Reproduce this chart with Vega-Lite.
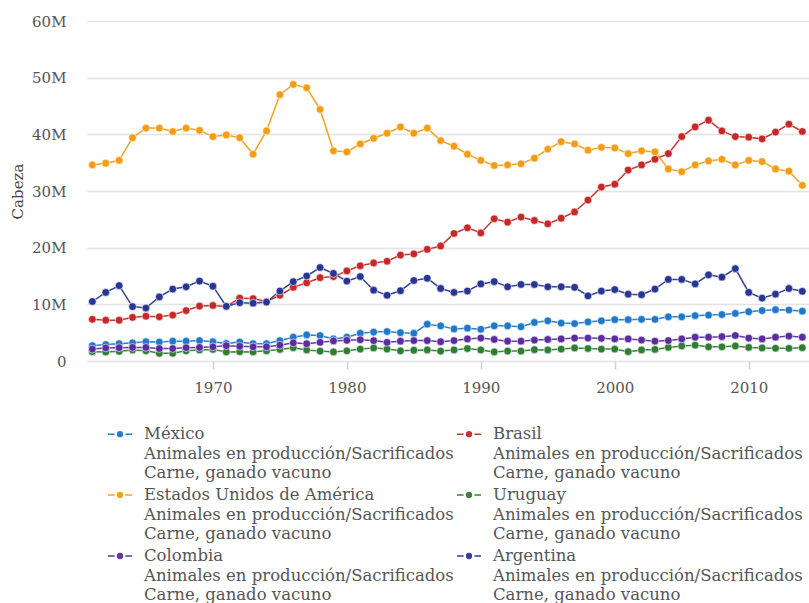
{
"$schema": "https://vega.github.io/schema/vega-lite/v6.json",
"width": 722, "height": 340,
"autosize": {"type": "none"},
"padding": {"left": 87, "top": 21, "right": 0, "bottom": 242},
"background": "white",
"config": {
  "font": "DejaVu Serif",
  "view": {"stroke": null},
  "axis": {"labelFont": "DejaVu Serif", "titleFont": "DejaVu Serif"},
  "legend": {"labelFont": "DejaVu Serif"},
  "style": {"guide-label": {"lineHeight": 19.6}}
},
"data": {"values": [
{"year":1961,"pais":"México","cabeza":2700000},{"year":1962,"pais":"México","cabeza":2900000},{"year":1963,"pais":"México","cabeza":3050000},{"year":1964,"pais":"México","cabeza":3200000},{"year":1965,"pais":"México","cabeza":3400000},{"year":1966,"pais":"México","cabeza":3350000},{"year":1967,"pais":"México","cabeza":3500000},{"year":1968,"pais":"México","cabeza":3500000},{"year":1969,"pais":"México","cabeza":3600000},{"year":1970,"pais":"México","cabeza":3400000},{"year":1971,"pais":"México","cabeza":3100000},{"year":1972,"pais":"México","cabeza":3350000},{"year":1973,"pais":"México","cabeza":3050000},{"year":1974,"pais":"México","cabeza":3050000},{"year":1975,"pais":"México","cabeza":3600000},{"year":1976,"pais":"México","cabeza":4200000},{"year":1977,"pais":"México","cabeza":4600000},{"year":1978,"pais":"México","cabeza":4500000},{"year":1979,"pais":"México","cabeza":3900000},{"year":1980,"pais":"México","cabeza":4200000},{"year":1981,"pais":"México","cabeza":4900000},{"year":1982,"pais":"México","cabeza":5100000},{"year":1983,"pais":"México","cabeza":5200000},{"year":1984,"pais":"México","cabeza":5000000},{"year":1985,"pais":"México","cabeza":4900000},{"year":1986,"pais":"México","cabeza":6500000},{"year":1987,"pais":"México","cabeza":6200000},{"year":1988,"pais":"México","cabeza":5650000},{"year":1989,"pais":"México","cabeza":5800000},{"year":1990,"pais":"México","cabeza":5600000},{"year":1991,"pais":"México","cabeza":6200000},{"year":1992,"pais":"México","cabeza":6200000},{"year":1993,"pais":"México","cabeza":6050000},{"year":1994,"pais":"México","cabeza":6800000},{"year":1995,"pais":"México","cabeza":7100000},{"year":1996,"pais":"México","cabeza":6700000},{"year":1997,"pais":"México","cabeza":6600000},{"year":1998,"pais":"México","cabeza":6900000},{"year":1999,"pais":"México","cabeza":7100000},{"year":2000,"pais":"México","cabeza":7300000},{"year":2001,"pais":"México","cabeza":7300000},{"year":2002,"pais":"México","cabeza":7350000},{"year":2003,"pais":"México","cabeza":7350000},{"year":2004,"pais":"México","cabeza":7800000},{"year":2005,"pais":"México","cabeza":7800000},{"year":2006,"pais":"México","cabeza":8000000},{"year":2007,"pais":"México","cabeza":8100000},{"year":2008,"pais":"México","cabeza":8200000},{"year":2009,"pais":"México","cabeza":8400000},{"year":2010,"pais":"México","cabeza":8700000},{"year":2011,"pais":"México","cabeza":8900000},{"year":2012,"pais":"México","cabeza":9050000},{"year":2013,"pais":"México","cabeza":9000000},{"year":2014,"pais":"México","cabeza":8800000},
{"year":1961,"pais":"Brasil","cabeza":7360000},{"year":1962,"pais":"Brasil","cabeza":7200000},{"year":1963,"pais":"Brasil","cabeza":7200000},{"year":1964,"pais":"Brasil","cabeza":7700000},{"year":1965,"pais":"Brasil","cabeza":7900000},{"year":1966,"pais":"Brasil","cabeza":7800000},{"year":1967,"pais":"Brasil","cabeza":8100000},{"year":1968,"pais":"Brasil","cabeza":8900000},{"year":1969,"pais":"Brasil","cabeza":9700000},{"year":1970,"pais":"Brasil","cabeza":9800000},{"year":1971,"pais":"Brasil","cabeza":9600000},{"year":1972,"pais":"Brasil","cabeza":11100000},{"year":1973,"pais":"Brasil","cabeza":11000000},{"year":1974,"pais":"Brasil","cabeza":10500000},{"year":1975,"pais":"Brasil","cabeza":11600000},{"year":1976,"pais":"Brasil","cabeza":13000000},{"year":1977,"pais":"Brasil","cabeza":13800000},{"year":1978,"pais":"Brasil","cabeza":14700000},{"year":1979,"pais":"Brasil","cabeza":14900000},{"year":1980,"pais":"Brasil","cabeza":15900000},{"year":1981,"pais":"Brasil","cabeza":16800000},{"year":1982,"pais":"Brasil","cabeza":17300000},{"year":1983,"pais":"Brasil","cabeza":17600000},{"year":1984,"pais":"Brasil","cabeza":18700000},{"year":1985,"pais":"Brasil","cabeza":18900000},{"year":1986,"pais":"Brasil","cabeza":19700000},{"year":1987,"pais":"Brasil","cabeza":20300000},{"year":1988,"pais":"Brasil","cabeza":22500000},{"year":1989,"pais":"Brasil","cabeza":23500000},{"year":1990,"pais":"Brasil","cabeza":22600000},{"year":1991,"pais":"Brasil","cabeza":25100000},{"year":1992,"pais":"Brasil","cabeza":24500000},{"year":1993,"pais":"Brasil","cabeza":25400000},{"year":1994,"pais":"Brasil","cabeza":24800000},{"year":1995,"pais":"Brasil","cabeza":24200000},{"year":1996,"pais":"Brasil","cabeza":25200000},{"year":1997,"pais":"Brasil","cabeza":26300000},{"year":1998,"pais":"Brasil","cabeza":28400000},{"year":1999,"pais":"Brasil","cabeza":30700000},{"year":2000,"pais":"Brasil","cabeza":31200000},{"year":2001,"pais":"Brasil","cabeza":33700000},{"year":2002,"pais":"Brasil","cabeza":34600000},{"year":2003,"pais":"Brasil","cabeza":35600000},{"year":2004,"pais":"Brasil","cabeza":36600000},{"year":2005,"pais":"Brasil","cabeza":39600000},{"year":2006,"pais":"Brasil","cabeza":41300000},{"year":2007,"pais":"Brasil","cabeza":42500000},{"year":2008,"pais":"Brasil","cabeza":40600000},{"year":2009,"pais":"Brasil","cabeza":39600000},{"year":2010,"pais":"Brasil","cabeza":39500000},{"year":2011,"pais":"Brasil","cabeza":39200000},{"year":2012,"pais":"Brasil","cabeza":40400000},{"year":2013,"pais":"Brasil","cabeza":41800000},{"year":2014,"pais":"Brasil","cabeza":40500000},
{"year":1961,"pais":"Estados Unidos de América","cabeza":34600000},{"year":1962,"pais":"Estados Unidos de América","cabeza":34900000},{"year":1963,"pais":"Estados Unidos de América","cabeza":35400000},{"year":1964,"pais":"Estados Unidos de América","cabeza":39400000},{"year":1965,"pais":"Estados Unidos de América","cabeza":41100000},{"year":1966,"pais":"Estados Unidos de América","cabeza":41100000},{"year":1967,"pais":"Estados Unidos de América","cabeza":40500000},{"year":1968,"pais":"Estados Unidos de América","cabeza":41100000},{"year":1969,"pais":"Estados Unidos de América","cabeza":40700000},{"year":1970,"pais":"Estados Unidos de América","cabeza":39600000},{"year":1971,"pais":"Estados Unidos de América","cabeza":39900000},{"year":1972,"pais":"Estados Unidos de América","cabeza":39400000},{"year":1973,"pais":"Estados Unidos de América","cabeza":36500000},{"year":1974,"pais":"Estados Unidos de América","cabeza":40600000},{"year":1975,"pais":"Estados Unidos de América","cabeza":47000000},{"year":1976,"pais":"Estados Unidos de América","cabeza":48800000},{"year":1977,"pais":"Estados Unidos de América","cabeza":48200000},{"year":1978,"pais":"Estados Unidos de América","cabeza":44400000},{"year":1979,"pais":"Estados Unidos de América","cabeza":37100000},{"year":1980,"pais":"Estados Unidos de América","cabeza":36900000},{"year":1981,"pais":"Estados Unidos de América","cabeza":38300000},{"year":1982,"pais":"Estados Unidos de América","cabeza":39300000},{"year":1983,"pais":"Estados Unidos de América","cabeza":40200000},{"year":1984,"pais":"Estados Unidos de América","cabeza":41300000},{"year":1985,"pais":"Estados Unidos de América","cabeza":40200000},{"year":1986,"pais":"Estados Unidos de América","cabeza":41100000},{"year":1987,"pais":"Estados Unidos de América","cabeza":38900000},{"year":1988,"pais":"Estados Unidos de América","cabeza":37900000},{"year":1989,"pais":"Estados Unidos de América","cabeza":36500000},{"year":1990,"pais":"Estados Unidos de América","cabeza":35400000},{"year":1991,"pais":"Estados Unidos de América","cabeza":34500000},{"year":1992,"pais":"Estados Unidos de América","cabeza":34600000},{"year":1993,"pais":"Estados Unidos de América","cabeza":34800000},{"year":1994,"pais":"Estados Unidos de América","cabeza":35800000},{"year":1995,"pais":"Estados Unidos de América","cabeza":37400000},{"year":1996,"pais":"Estados Unidos de América","cabeza":38700000},{"year":1997,"pais":"Estados Unidos de América","cabeza":38300000},{"year":1998,"pais":"Estados Unidos de América","cabeza":37200000},{"year":1999,"pais":"Estados Unidos de América","cabeza":37700000},{"year":2000,"pais":"Estados Unidos de América","cabeza":37600000},{"year":2001,"pais":"Estados Unidos de América","cabeza":36600000},{"year":2002,"pais":"Estados Unidos de América","cabeza":37100000},{"year":2003,"pais":"Estados Unidos de América","cabeza":36900000},{"year":2004,"pais":"Estados Unidos de América","cabeza":33900000},{"year":2005,"pais":"Estados Unidos de América","cabeza":33400000},{"year":2006,"pais":"Estados Unidos de América","cabeza":34600000},{"year":2007,"pais":"Estados Unidos de América","cabeza":35300000},{"year":2008,"pais":"Estados Unidos de América","cabeza":35600000},{"year":2009,"pais":"Estados Unidos de América","cabeza":34600000},{"year":2010,"pais":"Estados Unidos de América","cabeza":35400000},{"year":2011,"pais":"Estados Unidos de América","cabeza":35200000},{"year":2012,"pais":"Estados Unidos de América","cabeza":33900000},{"year":2013,"pais":"Estados Unidos de América","cabeza":33500000},{"year":2014,"pais":"Estados Unidos de América","cabeza":31000000},
{"year":1961,"pais":"Uruguay","cabeza":1650000},{"year":1962,"pais":"Uruguay","cabeza":1600000},{"year":1963,"pais":"Uruguay","cabeza":1700000},{"year":1964,"pais":"Uruguay","cabeza":1950000},{"year":1965,"pais":"Uruguay","cabeza":1800000},{"year":1966,"pais":"Uruguay","cabeza":1350000},{"year":1967,"pais":"Uruguay","cabeza":1350000},{"year":1968,"pais":"Uruguay","cabeza":1800000},{"year":1969,"pais":"Uruguay","cabeza":1950000},{"year":1970,"pais":"Uruguay","cabeza":2050000},{"year":1971,"pais":"Uruguay","cabeza":1600000},{"year":1972,"pais":"Uruguay","cabeza":1650000},{"year":1973,"pais":"Uruguay","cabeza":1600000},{"year":1974,"pais":"Uruguay","cabeza":1800000},{"year":1975,"pais":"Uruguay","cabeza":2050000},{"year":1976,"pais":"Uruguay","cabeza":2350000},{"year":1977,"pais":"Uruguay","cabeza":1950000},{"year":1978,"pais":"Uruguay","cabeza":1750000},{"year":1979,"pais":"Uruguay","cabeza":1600000},{"year":1980,"pais":"Uruguay","cabeza":1800000},{"year":1981,"pais":"Uruguay","cabeza":2100000},{"year":1982,"pais":"Uruguay","cabeza":2300000},{"year":1983,"pais":"Uruguay","cabeza":2100000},{"year":1984,"pais":"Uruguay","cabeza":1800000},{"year":1985,"pais":"Uruguay","cabeza":1900000},{"year":1986,"pais":"Uruguay","cabeza":1950000},{"year":1987,"pais":"Uruguay","cabeza":1750000},{"year":1988,"pais":"Uruguay","cabeza":1950000},{"year":1989,"pais":"Uruguay","cabeza":2200000},{"year":1990,"pais":"Uruguay","cabeza":1950000},{"year":1991,"pais":"Uruguay","cabeza":1600000},{"year":1992,"pais":"Uruguay","cabeza":1750000},{"year":1993,"pais":"Uruguay","cabeza":1750000},{"year":1994,"pais":"Uruguay","cabeza":2000000},{"year":1995,"pais":"Uruguay","cabeza":1950000},{"year":1996,"pais":"Uruguay","cabeza":2100000},{"year":1997,"pais":"Uruguay","cabeza":2300000},{"year":1998,"pais":"Uruguay","cabeza":2200000},{"year":1999,"pais":"Uruguay","cabeza":2100000},{"year":2000,"pais":"Uruguay","cabeza":2100000},{"year":2001,"pais":"Uruguay","cabeza":1650000},{"year":2002,"pais":"Uruguay","cabeza":1950000},{"year":2003,"pais":"Uruguay","cabeza":2050000},{"year":2004,"pais":"Uruguay","cabeza":2400000},{"year":2005,"pais":"Uruguay","cabeza":2650000},{"year":2006,"pais":"Uruguay","cabeza":2800000},{"year":2007,"pais":"Uruguay","cabeza":2500000},{"year":2008,"pais":"Uruguay","cabeza":2500000},{"year":2009,"pais":"Uruguay","cabeza":2650000},{"year":2010,"pais":"Uruguay","cabeza":2400000},{"year":2011,"pais":"Uruguay","cabeza":2300000},{"year":2012,"pais":"Uruguay","cabeza":2250000},{"year":2013,"pais":"Uruguay","cabeza":2250000},{"year":2014,"pais":"Uruguay","cabeza":2350000},
{"year":1961,"pais":"Colombia","cabeza":2100000},{"year":1962,"pais":"Colombia","cabeza":2300000},{"year":1963,"pais":"Colombia","cabeza":2350000},{"year":1964,"pais":"Colombia","cabeza":2400000},{"year":1965,"pais":"Colombia","cabeza":2400000},{"year":1966,"pais":"Colombia","cabeza":2200000},{"year":1967,"pais":"Colombia","cabeza":2200000},{"year":1968,"pais":"Colombia","cabeza":2350000},{"year":1969,"pais":"Colombia","cabeza":2400000},{"year":1970,"pais":"Colombia","cabeza":2500000},{"year":1971,"pais":"Colombia","cabeza":2700000},{"year":1972,"pais":"Colombia","cabeza":2600000},{"year":1973,"pais":"Colombia","cabeza":2500000},{"year":1974,"pais":"Colombia","cabeza":2500000},{"year":1975,"pais":"Colombia","cabeza":2800000},{"year":1976,"pais":"Colombia","cabeza":3200000},{"year":1977,"pais":"Colombia","cabeza":3050000},{"year":1978,"pais":"Colombia","cabeza":3300000},{"year":1979,"pais":"Colombia","cabeza":3550000},{"year":1980,"pais":"Colombia","cabeza":3650000},{"year":1981,"pais":"Colombia","cabeza":3750000},{"year":1982,"pais":"Colombia","cabeza":3600000},{"year":1983,"pais":"Colombia","cabeza":3300000},{"year":1984,"pais":"Colombia","cabeza":3500000},{"year":1985,"pais":"Colombia","cabeza":3600000},{"year":1986,"pais":"Colombia","cabeza":3600000},{"year":1987,"pais":"Colombia","cabeza":3400000},{"year":1988,"pais":"Colombia","cabeza":3600000},{"year":1989,"pais":"Colombia","cabeza":3900000},{"year":1990,"pais":"Colombia","cabeza":4050000},{"year":1991,"pais":"Colombia","cabeza":3800000},{"year":1992,"pais":"Colombia","cabeza":3500000},{"year":1993,"pais":"Colombia","cabeza":3500000},{"year":1994,"pais":"Colombia","cabeza":3700000},{"year":1995,"pais":"Colombia","cabeza":3800000},{"year":1996,"pais":"Colombia","cabeza":3900000},{"year":1997,"pais":"Colombia","cabeza":4050000},{"year":1998,"pais":"Colombia","cabeza":4050000},{"year":1999,"pais":"Colombia","cabeza":4000000},{"year":2000,"pais":"Colombia","cabeza":3900000},{"year":2001,"pais":"Colombia","cabeza":3900000},{"year":2002,"pais":"Colombia","cabeza":3700000},{"year":2003,"pais":"Colombia","cabeza":3500000},{"year":2004,"pais":"Colombia","cabeza":3600000},{"year":2005,"pais":"Colombia","cabeza":3900000},{"year":2006,"pais":"Colombia","cabeza":4200000},{"year":2007,"pais":"Colombia","cabeza":4200000},{"year":2008,"pais":"Colombia","cabeza":4300000},{"year":2009,"pais":"Colombia","cabeza":4500000},{"year":2010,"pais":"Colombia","cabeza":4050000},{"year":2011,"pais":"Colombia","cabeza":3900000},{"year":2012,"pais":"Colombia","cabeza":4200000},{"year":2013,"pais":"Colombia","cabeza":4400000},{"year":2014,"pais":"Colombia","cabeza":4200000},
{"year":1961,"pais":"Argentina","cabeza":10500000},{"year":1962,"pais":"Argentina","cabeza":12100000},{"year":1963,"pais":"Argentina","cabeza":13300000},{"year":1964,"pais":"Argentina","cabeza":9600000},{"year":1965,"pais":"Argentina","cabeza":9350000},{"year":1966,"pais":"Argentina","cabeza":11300000},{"year":1967,"pais":"Argentina","cabeza":12700000},{"year":1968,"pais":"Argentina","cabeza":13100000},{"year":1969,"pais":"Argentina","cabeza":14100000},{"year":1970,"pais":"Argentina","cabeza":13200000},{"year":1971,"pais":"Argentina","cabeza":9650000},{"year":1972,"pais":"Argentina","cabeza":10300000},{"year":1973,"pais":"Argentina","cabeza":10200000},{"year":1974,"pais":"Argentina","cabeza":10400000},{"year":1975,"pais":"Argentina","cabeza":12350000},{"year":1976,"pais":"Argentina","cabeza":14000000},{"year":1977,"pais":"Argentina","cabeza":15000000},{"year":1978,"pais":"Argentina","cabeza":16500000},{"year":1979,"pais":"Argentina","cabeza":15450000},{"year":1980,"pais":"Argentina","cabeza":14100000},{"year":1981,"pais":"Argentina","cabeza":14900000},{"year":1982,"pais":"Argentina","cabeza":12500000},{"year":1983,"pais":"Argentina","cabeza":11600000},{"year":1984,"pais":"Argentina","cabeza":12400000},{"year":1985,"pais":"Argentina","cabeza":14200000},{"year":1986,"pais":"Argentina","cabeza":14600000},{"year":1987,"pais":"Argentina","cabeza":12800000},{"year":1988,"pais":"Argentina","cabeza":12100000},{"year":1989,"pais":"Argentina","cabeza":12350000},{"year":1990,"pais":"Argentina","cabeza":13600000},{"year":1991,"pais":"Argentina","cabeza":14000000},{"year":1992,"pais":"Argentina","cabeza":13100000},{"year":1993,"pais":"Argentina","cabeza":13500000},{"year":1994,"pais":"Argentina","cabeza":13500000},{"year":1995,"pais":"Argentina","cabeza":13100000},{"year":1996,"pais":"Argentina","cabeza":13100000},{"year":1997,"pais":"Argentina","cabeza":13000000},{"year":1998,"pais":"Argentina","cabeza":11500000},{"year":1999,"pais":"Argentina","cabeza":12350000},{"year":2000,"pais":"Argentina","cabeza":12600000},{"year":2001,"pais":"Argentina","cabeza":11800000},{"year":2002,"pais":"Argentina","cabeza":11700000},{"year":2003,"pais":"Argentina","cabeza":12700000},{"year":2004,"pais":"Argentina","cabeza":14400000},{"year":2005,"pais":"Argentina","cabeza":14400000},{"year":2006,"pais":"Argentina","cabeza":13600000},{"year":2007,"pais":"Argentina","cabeza":15200000},{"year":2008,"pais":"Argentina","cabeza":14800000},{"year":2009,"pais":"Argentina","cabeza":16300000},{"year":2010,"pais":"Argentina","cabeza":12100000},{"year":2011,"pais":"Argentina","cabeza":11100000},{"year":2012,"pais":"Argentina","cabeza":11800000},{"year":2013,"pais":"Argentina","cabeza":12800000},{"year":2014,"pais":"Argentina","cabeza":12300000}
]},
"encoding": {
  "x": {"field": "year", "type": "quantitative",
        "scale": {"domain": [1960.6, 2014.5], "nice": false, "zero": false},
        "axis": {"values": [1970, 1980, 1990, 2000, 2010], "format": "d", "title": null, "grid": false, "domain": false,
                 "ticks": true, "tickSize": 8, "tickColor": "#d0d0d0", "tickWidth": 1.5,
                 "labelFontSize": 15, "labelColor": "#555555", "labelPadding": 11}},
  "y": {"field": "cabeza", "type": "quantitative",
        "scale": {"domain": [0, 60000000], "nice": false},
        "axis": {"values": [0, 10000000, 20000000, 30000000, 40000000, 50000000, 60000000],
                 "labelExpr": "datum.value === 0 ? '0' : (datum.value / 1000000) + 'M'",
                 "title": "Cabeza", "titleFontSize": 15, "titleFontWeight": "normal", "titleColor": "#444444",
                 "titleX": -70, "titleY": 170, "titleAlign": "center", "titleBaseline": "middle", "titleAngle": -90,
                 "grid": true, "gridColor": "#e3e3e3", "gridWidth": 1.5, "domain": false, "ticks": false,
                 "labelFontSize": 15, "labelColor": "#555555", "labelPadding": 21}},
  "color": {"field": "pais", "type": "nominal",
            "scale": {"domain": ["México", "Estados Unidos de América", "Colombia", "Brasil", "Uruguay", "Argentina"],
                      "range": ["#1f78c8", "#f29d12", "#5b2ca0", "#c62828", "#2e7d32", "#283593"]},
            "legend": {"title": null, "orient": "none", "legendX": 20, "legendY": 400, "columns": 2, "columnPadding": 0,
                       "rowPadding": 0, "labelFontSize": 16.5, "labelColor": "#555555", "labelLimit": 0,
                       "labelExpr": "[datum.label, 'Animales en producción/Sacrificados', 'Carne, ganado vacuno']",
                       "symbolType": "M-1,0H-0.45M0.45,0H1M-0.2,0A0.2,0.2,0,1,1,0.2,0A0.2,0.2,0,1,1,-0.2,0Z",
                       "symbolSize": 576, "symbolStrokeWidth": 1.5, "labelOffset": 11,
                       "encode": {"symbols": {"update": {"fill": {"scale": "color", "field": "value"}, "stroke": {"scale": "color", "field": "value"}, "opacity": {"value": 1}}}}}}
},
"layer": [
  {"mark": {"type": "line", "strokeWidth": 1.5, "opacity": 0.95}},
  {"mark": {"type": "point", "filled": true, "size": 60, "opacity": 1, "stroke": "white", "strokeWidth": 0.6}}
]
}
